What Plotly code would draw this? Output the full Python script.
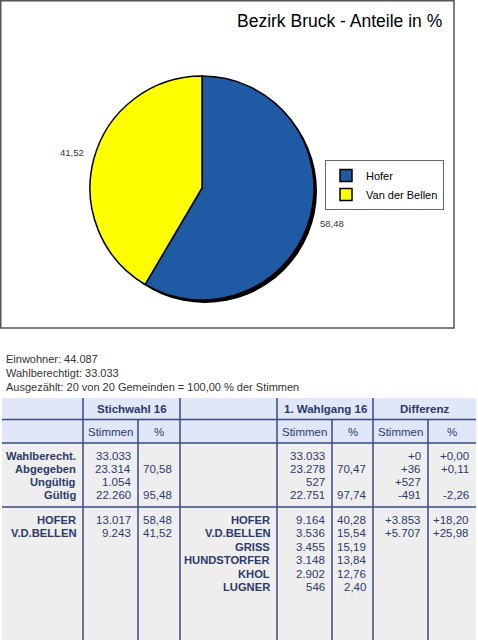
import math
import plotly.graph_objects as go

W, H = 478, 640

# ---------------- data ----------------
pie_title = "Bezirk Bruck - Anteile in %"
candidates = ["Hofer", "Van der Bellen"]
shares = [58.48, 41.52]
share_labels = ["58,48", "41,52"]
pie_colors = ["#1F5BA5", "#FFFF00"]

info_lines = [
    "Einwohner: 44.087",
    "Wahlberechtigt: 33.033",
    "Ausgezählt: 20 von 20 Gemeinden = 100,00 % der Stimmen",
]

group_headers = ["Stichwahl 16", "1. Wahlgang 16", "Differenz"]
sub_headers = ["Stimmen", "%", "Stimmen", "%", "Stimmen", "%"]

stat_labels = ["Wahlberecht.", "Abgegeben", "Ungültig", "Gültig"]
stich_stimmen = ["33.033", "23.314", "1.054", "22.260"]
stich_pct = ["", "70,58", "", "95,48"]
wg1_stimmen = ["33.033", "23.278", "527", "22.751"]
wg1_pct = ["", "70,47", "", "97,74"]
diff_stimmen = ["+0", "+36", "+527", "-491"]
diff_pct = ["+0,00", "+0,11", "", "-2,26"]

stich_kand = ["HOFER", "V.D.BELLEN"]
stich_kand_stimmen = ["13.017", "9.243"]
stich_kand_pct = ["58,48", "41,52"]
wg1_kand = ["HOFER", "V.D.BELLEN", "GRISS", "HUNDSTORFER", "KHOL", "LUGNER"]
wg1_kand_stimmen = ["9.164", "3.536", "3.455", "3.148", "2.902", "546"]
wg1_kand_pct = ["40,28", "15,54", "15,19", "13,84", "12,76", "2,40"]
diff_kand_stimmen = ["+3.853", "+5.707"]
diff_kand_pct = ["+18,20", "+25,98"]

# ---------------- layout constants ----------------
FONT = "Liberation Sans, Arial, Helvetica, sans-serif"
NAVY = "#2C3A6B"
LINE = "#3B4A82"
PIE_CX, PIE_CY, PIE_R = 202, 188, 112
SHADOW = 3
LBL = 11.2    # bold label size
HDR = 11.5    # bold header size
NUM = 11.5    # number size

col_lines_full = [83, 180, 277, 373]
col_lines_sub = [138, 332, 428]
T_LEFT, T_RIGHT, T_TOP, HDR1_B, HDR2_B, T_BOT = 2, 476, 398, 419.5, 443, 640
SEP_Y = 507
stat_y0, stat_step = 456, 13.1
kand_y0, kand_step = 519.5, 13.5

def dom(cx, cy, r):
    return dict(x=[(cx - r) / W, (cx + r) / W], y=[1 - (cy + r) / H, 1 - (cy - r) / H])

fig = go.Figure()

# shadow
fig.add_trace(go.Pie(values=[1], labels=["shadow"], marker=dict(colors=["#000000"]),
                     domain=dom(PIE_CX + SHADOW, PIE_CY + SHADOW, PIE_R), textinfo="none",
                     hoverinfo="skip", showlegend=False, sort=False))
fig.add_trace(go.Pie(values=shares, labels=candidates, sort=False, direction="clockwise",
                     rotation=0, marker=dict(colors=pie_colors, line=dict(color="#000000", width=1.5)),
                     domain=dom(PIE_CX, PIE_CY, PIE_R), textinfo="none", hoverinfo="label+value"))

# invisible scatter to set up the axes
fig.add_trace(go.Scatter(x=[0, W], y=[0, H], mode="markers", marker=dict(opacity=0),
                         showlegend=False, hoverinfo="skip"))

ann = []
def txt(x, y, s, anchor="right", bold=False, size=NUM, color=NAVY):
    ann.append(dict(x=x, y=y, xref="x", yref="y", text=("<b>%s</b>" % s) if bold else s,
                    showarrow=False, xanchor=anchor, yanchor="middle",
                    font=dict(family=FONT, size=size, color=color)))

# title
txt(444, 20.5, pie_title, anchor="right", size=17.5, color="#000000")

# pie value labels from slice angles
total = sum(shares)
cum = 0
for v, lab in zip(shares, share_labels):
    mid = (cum + v / 2) / total * 2 * math.pi
    cum += v
    rr = PIE_R * 1.2
    txt(PIE_CX + rr * math.sin(mid), PIE_CY - rr * math.cos(mid), lab, anchor="center",
        size=9.5, color="#333333")

# info lines
for i, s in enumerate(info_lines):
    txt(4, 359 + 14 * i, s, anchor="left", size=11, color="#333333")

# headers
for s, c in zip(group_headers, [131.5, 325, 424.5]):
    txt(c, 409, s, anchor="center", bold=True, size=HDR)
for s, c in zip(sub_headers, [110.5, 159, 304.5, 352.5, 400.5, 452]):
    txt(c, 432, s, anchor="center")

# stats rows
for i in range(len(stat_labels)):
    y = stat_y0 + stat_step * i
    txt(78, y, stat_labels[i], bold=True, size=LBL)
    for xr, col in zip([133, 174, 327, 368, 423, 471],
                       [stich_stimmen, stich_pct, wg1_stimmen, wg1_pct, diff_stimmen, diff_pct]):
        if col[i]:
            txt(xr, y, col[i])

# candidate rows
for i in range(len(stich_kand)):
    y = kand_y0 + kand_step * i
    txt(78, y, stich_kand[i], bold=True, size=LBL)
    txt(133, y, stich_kand_stimmen[i])
    txt(174, y, stich_kand_pct[i])
    txt(423, y, diff_kand_stimmen[i])
    txt(471, y, diff_kand_pct[i])
for i in range(len(wg1_kand)):
    y = kand_y0 + kand_step * i
    txt(272, y, wg1_kand[i], bold=True, size=LBL)
    txt(327, y, wg1_kand_stimmen[i])
    txt(368, y, wg1_kand_pct[i])

shapes = []
def rect(x0, y0, x1, y1, fill=None, line=None, lw=0, layer="below"):
    shapes.append(dict(type="rect", xref="x", yref="y", x0=x0, y0=y0, x1=x1, y1=y1,
                       fillcolor=fill or "rgba(0,0,0,0)",
                       line=dict(color=line or "rgba(0,0,0,0)", width=lw), layer=layer))
def seg(x0, y0, x1, y1, color=LINE, lw=1.5):
    shapes.append(dict(type="line", xref="x", yref="y", x0=x0, y0=y0, x1=x1, y1=y1,
                       line=dict(color=color, width=lw), layer="above"))

rect(0.75, 0.75, 454, 328, line="#555555", lw=1.5)
rect(T_LEFT, T_TOP, T_RIGHT, HDR2_B, fill="#DFE7F9")
rect(T_LEFT, HDR2_B, T_RIGHT, T_BOT, fill="#EEEEEE")
for y in [HDR1_B, HDR2_B, SEP_Y]:
    seg(T_LEFT, y, T_RIGHT, y)
for x in col_lines_full:
    seg(x, T_TOP, x, T_BOT)
for x in col_lines_sub:
    seg(x, HDR1_B, x, T_BOT)

fig.update_layout(
    width=W, height=H, margin=dict(l=0, r=0, t=0, b=0),
    paper_bgcolor="white", plot_bgcolor="white",
    xaxis=dict(range=[0, W], visible=False, fixedrange=True, domain=[0, 1]),
    yaxis=dict(range=[H, 0], visible=False, fixedrange=True, domain=[0, 1]),
    annotations=ann, shapes=shapes,
    legend=dict(x=444 / W, xanchor="right", y=1 - 160 / H, yanchor="top",
                bordercolor="#666666", borderwidth=1, bgcolor="white",
                font=dict(family=FONT, size=11, color="#000000")),
    showlegend=True,
)

fig.write_html("out.html", config={"displayModeBar": False},
               post_script="document.body.style.margin='0';document.body.style.overflow='hidden';")
